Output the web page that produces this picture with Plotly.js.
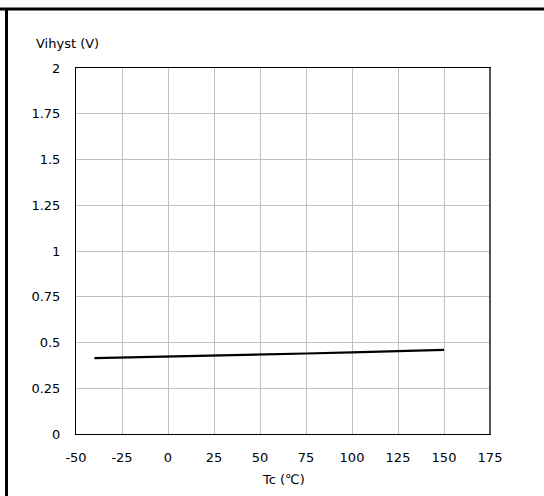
<!DOCTYPE html>
<html>
<head>
<meta charset="utf-8">
<script src="https://cdn.plot.ly/plotly-3.0.1.min.js"></script>
<style>html,body{margin:0;padding:0;background:#fff;}#chart{width:544px;height:496px;}</style>
</head>
<body>
<div id="chart"></div>
<script>
const temperatureC = [-40, -25, 0, 25, 50, 75, 100, 125, 150];
const vihystV = [0.415, 0.418, 0.421, 0.426, 0.433, 0.440, 0.446, 0.452, 0.460];
const xTicks = [-50, -25, 0, 25, 50, 75, 100, 125, 150, 175];
const yTicks = [0, 0.25, 0.5, 0.75, 1, 1.25, 1.5, 1.75, 2];
const yTickText = ["0", "0.25", "0.5", "0.75", "1", "1.25", "1.5", "1.75", "2"];
const yTitle = "Vihyst (V)";
const xTitle = "Tc (℃)";

const font = {family: "DejaVu Sans, Verdana, sans-serif", size: 13, color: "#000"};

const L = 76, R = 490, T = 68, B = 434, W = 544, H = 496;
const px = x => (x - L) / (R - L);
const py = y => (B - y) / (B - T);

const trace = {
  x: temperatureC, y: vihystV, type: "scatter", mode: "lines",
  line: {color: "#000", width: 2.2}, hoverinfo: "skip", showlegend: false
};

const layout = {
  width: W, height: H,
  margin: {l: L, r: W - R, t: T, b: H - B, pad: 0},
  paper_bgcolor: "#fff", plot_bgcolor: "#fff",
  font: font,
  xaxis: {
    range: [-50, 175], tickvals: xTicks, ticktext: xTicks.map(String),
    showgrid: true, gridcolor: "#c0c0c0", gridwidth: 1,
    zeroline: false, showline: true, linecolor: "#000", linewidth: 1, mirror: true,
    ticks: "", ticklabelstandoff: 11, tickfont: font, fixedrange: true
  },
  yaxis: {
    range: [0, 2], tickvals: yTicks, ticktext: yTickText,
    showgrid: true, gridcolor: "#c0c0c0", gridwidth: 1,
    zeroline: false, showline: true, linecolor: "#000", linewidth: 1, mirror: true,
    ticks: "", ticklabelstandoff: 12, tickfont: font, fixedrange: true
  },
  annotations: [
    {text: yTitle, xref: "paper", yref: "paper", x: px(34), y: py(44),
     xanchor: "left", yanchor: "middle", showarrow: false, font: font},
    {text: xTitle, xref: "paper", yref: "paper", x: 0.5, y: py(480),
     xanchor: "center", yanchor: "middle", showarrow: false, font: font}
  ],
  shapes: [
    {type: "line", xref: "paper", yref: "paper", x0: px(R), x1: px(R), y0: py(T), y1: py(B),
     line: {color: "#555", width: 2}},
    {type: "line", xref: "paper", yref: "paper", x0: px(0), x1: px(W), y0: py(9), y1: py(9),
     line: {color: "#000", width: 3}},
    {type: "line", xref: "paper", yref: "paper", x0: px(6.5), x1: px(6.5), y0: py(9), y1: py(H),
     line: {color: "#000", width: 3}}
  ]
};

Plotly.newPlot("chart", [trace], layout, {displayModeBar: false, staticPlot: true});
</script>
</body>
</html>
